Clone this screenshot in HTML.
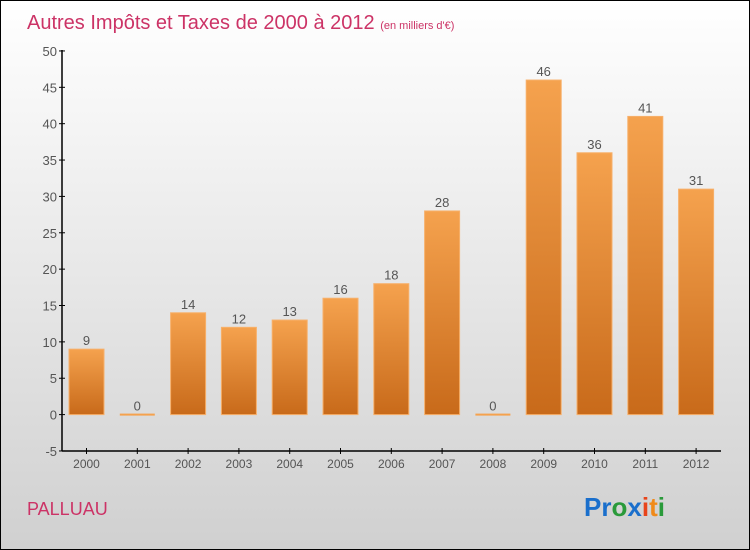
<!DOCTYPE html>
<html><head><meta charset="utf-8"><style>
body{margin:0}
#c{position:relative;width:748px;height:548px;border:1px solid #000;background:linear-gradient(#ffffff,#d0d0d0);overflow:hidden;font-family:"Liberation Sans",sans-serif}
</style></head><body>
<div id="c">
<svg width="748" height="548" id="s">
<defs><linearGradient id="g" x1="0" y1="0" x2="0" y2="1"><stop offset="0" stop-color="#f5a24e"/><stop offset="1" stop-color="#c86a1a"/></linearGradient></defs>
<text x="26" y="28" font-size="20" fill="#cc3366">Autres Impôts et Taxes de 2000 à 2012 <tspan font-size="11">(en milliers d'€)</tspan></text>
<text x="26" y="514" font-size="18" fill="#cc3366">PALLUAU</text>
<text x="583" y="515" font-size="26" font-weight="bold"><tspan fill="#1a6fcc">Pr</tspan><tspan fill="#2a9a3a">o</tspan><tspan fill="#1a6fcc">x</tspan><tspan fill="#e8441a">i</tspan><tspan fill="#f08a1a">t</tspan><tspan fill="#2a9a3a">i</tspan></text>
<g id="plot"></g>
</svg>
</div>
<script>
const years=["2000","2001","2002","2003","2004","2005","2006","2007","2008","2009","2010","2011","2012"];
const values=[9,0,14,12,13,16,18,28,0,46,36,41,31];
const ticks=[-5,0,5,10,15,20,25,30,35,40,45,50];
const NS="http://www.w3.org/2000/svg";
const g=document.getElementById('plot');
const y=v=>413.6-v*7.273;
const x=i=>85.5+i*50.8;
function mk(t,a){const e=document.createElementNS(NS,t);for(const k in a)e.setAttribute(k,a[k]);g.appendChild(e);return e;}
let ax=mk('line',{x1:61,y1:49,x2:61,y2:450,stroke:'#000','stroke-width':1.5});


let bx=mk('line',{x1:61,y1:450,x2:720,y2:450,stroke:'#000','stroke-width':1.5});


ticks.forEach(t=>{
 mk('line',{x1:58,x2:64,y1:y(t),y2:y(t),stroke:'#000'});
 const tx=mk('text',{x:56,y:y(t)+5,'font-size':13,fill:'#555','text-anchor':'end'});
 tx.textContent=t;
 
 
});
years.forEach((yr,i)=>{
 const v=values[i];
 mk('line',{x1:x(i),x2:x(i),y1:447,y2:453,stroke:'#000'});
 const tl=mk('text',{x:x(i),y:467,'font-size':12,fill:'#555','text-anchor':'middle'});
 tl.textContent=yr;
 
 
 let b;
 if(v===0){b=mk('rect',{x:x(i)-17.5,y:y(0)-1,width:35,height:2,fill:'#f5a24e'});}
 else{b=mk('rect',{x:x(i)-17.5,y:y(v),width:35,height:y(0)-y(v),fill:'url(#g)',stroke:'#f7b06a','stroke-width':1});}
 
 
 const vl=mk('text',{x:x(i),y:y(v)-4,'font-size':13,fill:'#555','text-anchor':'middle'});
 vl.textContent=v;
 
 
});
</script>
</body></html>
